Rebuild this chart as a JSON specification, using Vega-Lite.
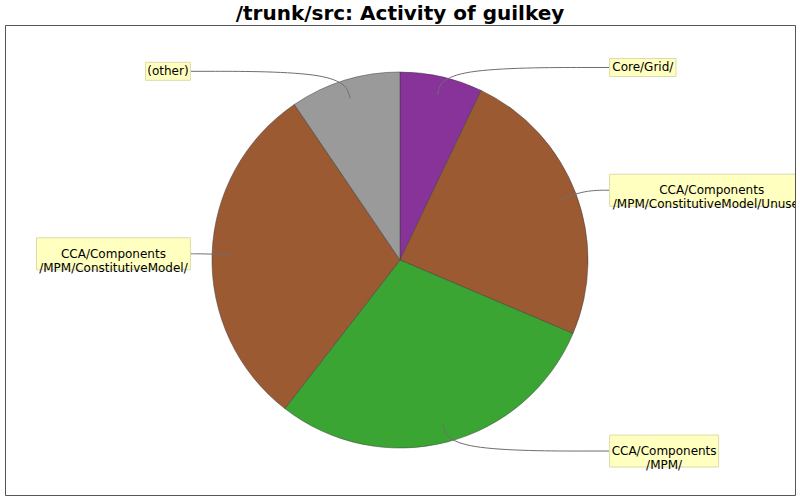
{
  "$schema": "https://vega.github.io/schema/vega-lite/v6.json",
  "autosize": "none",
  "width": 790,
  "height": 470,
  "padding": {"left": 5, "top": 25, "right": 5, "bottom": 5},
  "background": "white",
  "title": {
    "text": "/trunk/src: Activity of guilkey",
    "font": "DejaVu Sans",
    "fontSize": 20,
    "fontWeight": "bold",
    "color": "black",
    "anchor": "middle",
    "frame": "group",
    "baseline": "alphabetic",
    "offset": 4,
    "dy": 19
  },
  "config": {
    "view": {"stroke": "#555555", "strokeWidth": 1},
    "text": {"font": "DejaVu Sans"}
  },
  "data": {
    "values": [
      {"o": 1, "label": "Core/Grid/", "val": 7.1},
      {"o": 2, "label": "CCA/Components\n/MPM/ConstitutiveModel/Unused/", "val": 24.3},
      {"o": 3, "label": "CCA/Components\n/MPM/", "val": 29.1},
      {"o": 4, "label": "CCA/Components\n/MPM/ConstitutiveModel/", "val": 30.0},
      {"o": 5, "label": "(other)", "val": 9.5}
    ]
  },
  "transform": [
    {"window": [{"op": "sum", "field": "val", "as": "cum"}], "sort": [{"field": "o"}], "frame": [null, 0]},
    {"joinaggregate": [{"op": "sum", "field": "val", "as": "total"}]},
    {"calculate": "2*PI*(datum.cum - datum.val/2)/datum.total", "as": "mid"},
    {"calculate": "sin(datum.mid) >= 0 ? 1 : -1", "as": "side"},
    {"calculate": "1.05*cos(datum.mid)", "as": "ly"},
    {"calculate": "datum.side*1.115", "as": "lx"},
    {"calculate": "length(split(datum.label, '\\n'))", "as": "nl"},
    {"calculate": "split(datum.label, '\\n')[0]", "as": "l1"},
    {"calculate": "split(datum.label, '\\n')[1] || ''", "as": "l2"},
    {"calculate": "4.1*length(replace(datum.l1, regexp('[^/iltrfj():. ]', 'g'), '')) + 8.7*length(replace(datum.l1, regexp('[^A-Z]', 'g'), '')) + 7.5*length(replace(datum.l1, regexp('[/iltrfj():. A-Z]', 'g'), ''))", "as": "w1"},
    {"calculate": "4.1*length(replace(datum.l2, regexp('[^/iltrfj():. ]', 'g'), '')) + 8.7*length(replace(datum.l2, regexp('[^A-Z]', 'g'), '')) + 7.5*length(replace(datum.l2, regexp('[/iltrfj():. A-Z]', 'g'), ''))", "as": "w2"},
    {"calculate": "(max(datum.w1, datum.w2) + 6)/188", "as": "w"},
    {"calculate": "datum.lx + datum.side*datum.w", "as": "bx2"},
    {"calculate": "datum.lx + datum.side*datum.w/2", "as": "tx"},
    {"calculate": "datum.ly - (datum.nl*14 + 4)/2/188", "as": "by1"},
    {"calculate": "datum.ly + (datum.nl*14 + 4)/2/188", "as": "by2"}
  ],
  "layer": [
    {
      "mark": {"type": "arc", "outerRadius": 188, "stroke": "#3a3a3a", "strokeWidth": 0.5},
      "encoding": {
        "theta": {"field": "val", "type": "quantitative", "stack": true},
        "order": {"field": "o", "type": "quantitative"},
        "color": {
          "field": "label",
          "type": "nominal",
          "legend": null,
          "scale": {
            "domain": [
              "Core/Grid/",
              "CCA/Components\n/MPM/ConstitutiveModel/Unused/",
              "CCA/Components\n/MPM/",
              "CCA/Components\n/MPM/ConstitutiveModel/",
              "(other)"
            ],
            "range": ["#883399", "#9c5a33", "#3ba534", "#9c5a33", "#9a9a9a"]
          }
        }
      }
    },
    {
      "transform": [
        {"calculate": "[0, 1, 2]", "as": "k"},
        {"flatten": ["k"]},
        {"calculate": "datum.k == 0 ? 0.9*sin(datum.mid) : datum.k == 1 ? 1.05*sin(datum.mid) : datum.lx", "as": "px"},
        {"calculate": "datum.k == 0 ? 0.9*cos(datum.mid) : datum.ly", "as": "py"}
      ],
      "mark": {"type": "line", "interpolate": "basis", "stroke": "#6e6e6e", "strokeWidth": 1, "clip": true},
      "encoding": {
        "x": {"field": "px", "type": "quantitative", "scale": {"domain": [-2.1011, 2.1011], "nice": false, "zero": false}, "axis": null},
        "y": {"field": "py", "type": "quantitative", "scale": {"domain": [-1.25, 1.25], "nice": false, "zero": false}, "axis": null},
        "detail": {"field": "label", "type": "nominal"},
        "order": {"field": "k", "type": "quantitative"}
      }
    },
    {
      "mark": {"type": "rect", "fill": "#ffffc0", "stroke": "#dcdcaa", "strokeWidth": 1, "clip": true},
      "encoding": {
        "x": {"field": "lx", "type": "quantitative", "scale": {"domain": [-2.1011, 2.1011], "nice": false, "zero": false}, "axis": null},
        "x2": {"field": "bx2"},
        "y": {"field": "by1", "type": "quantitative", "scale": {"domain": [-1.25, 1.25], "nice": false, "zero": false}, "axis": null},
        "y2": {"field": "by2"}
      }
    },
    {
      "mark": {"type": "text", "align": "center", "baseline": "middle", "fontSize": 12, "lineBreak": "\n", "lineHeight": 14, "color": "black", "clip": true},
      "encoding": {
        "x": {"field": "tx", "type": "quantitative", "scale": {"domain": [-2.1011, 2.1011], "nice": false, "zero": false}, "axis": null},
        "y": {"field": "ly", "type": "quantitative", "scale": {"domain": [-1.25, 1.25], "nice": false, "zero": false}, "axis": null},
        "text": {"field": "label", "type": "nominal"}
      }
    }
  ]
}
